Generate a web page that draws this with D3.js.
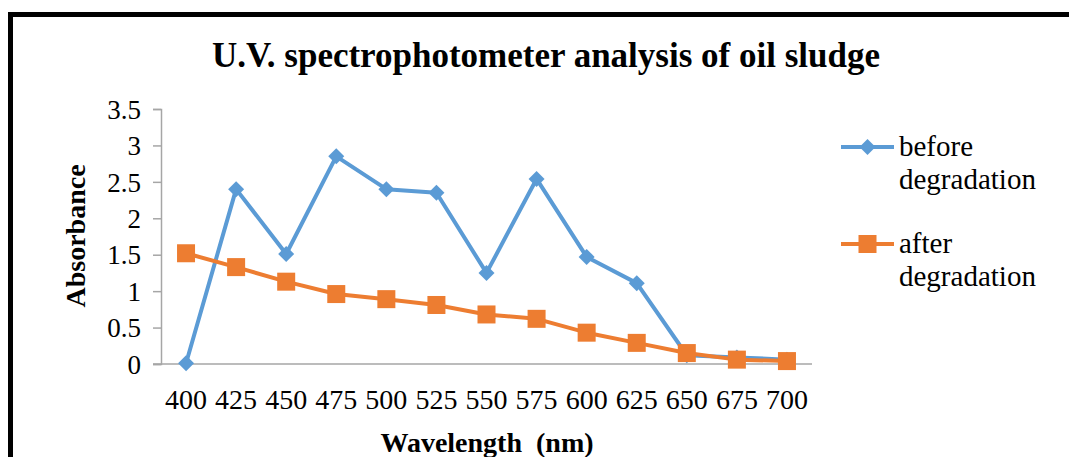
<!DOCTYPE html>
<html>
<head>
<meta charset="utf-8">
<script src="https://cdn.jsdelivr.net/npm/d3@7"></script>
<style>
  body { margin: 0; background: #fff; }
</style>
</head>
<body>
<div id="chart"></div>
<script>
var width = 1069,
    height = 457;

// data
var wavelengths = ["400","425","450","475","500","525","550","575","600","625","650","675","700"];
var before = [0.01, 2.40, 1.51, 2.85, 2.40, 2.35, 1.25, 2.54, 1.47, 1.11, 0.12, 0.09, 0.06];
var after  = [1.52, 1.33, 1.13, 0.96, 0.89, 0.81, 0.68, 0.62, 0.43, 0.29, 0.15, 0.06, 0.04];
var yTicks = [0, 0.5, 1, 1.5, 2, 2.5, 3, 3.5];
var seriesNames = ["before degradation", "after degradation"];

var blue = "#5b9bd5", orange = "#ed7d31";
var serif = "Liberation Serif";

var svg = d3.select("#chart")
  .append("svg")
  .attr("width", width)
  .attr("height", height)
  .attr("font-family", serif);

// frame (bottom and right are cut off in the picture)
svg.append("path")
  .attr("d", "M10.5,457 V14.5 H1069")
  .attr("fill", "none")
  .attr("stroke", "#000")
  .attr("stroke-width", 5);

var x = d3.scaleBand().domain(wavelengths).range([161, 812]);
var y = d3.scaleLinear().domain([0, 3.5]).range([364, 109]);

// y axis
var yAxis = svg.append("g")
  .attr("transform", "translate(161,0)")
  .call(d3.axisLeft(y).tickValues(yTicks).tickSize(8).tickPadding(12)
    .tickFormat(function(d){ return d; }));
yAxis.attr("font-family", serif);
yAxis.select(".domain").attr("stroke", "#a6a6a6").attr("stroke-width", 1.5);
yAxis.selectAll(".tick line").attr("stroke", "#a6a6a6").attr("stroke-width", 1.5);
yAxis.selectAll(".tick text")
  .style("font-size", "27px")
  .attr("fill", "#000")
  .attr("dy", "0.34em");

// x axis
svg.append("line")
  .attr("x1", 153).attr("x2", 812)
  .attr("y1", 364).attr("y2", 364)
  .attr("stroke", "#a6a6a6")
  .attr("stroke-width", 1.5);

svg.selectAll(".xlab")
  .data(wavelengths)
  .enter().append("text")
  .attr("class", "xlab")
  .attr("x", function(d){ return x(d) + x.bandwidth()/2; })
  .attr("y", 409)
  .attr("text-anchor", "middle")
  .style("font-size", "28px")
  .text(function(d){ return d; });

// lines
var line = d3.line()
  .x(function(d, i){ return x(wavelengths[i]) + x.bandwidth()/2; })
  .y(function(d){ return y(d); });

svg.append("path")
  .datum(before)
  .attr("d", line)
  .attr("fill", "none")
  .attr("stroke", blue)
  .attr("stroke-width", 4)
  .attr("stroke-linejoin", "round");

svg.append("path")
  .datum(after)
  .attr("d", line)
  .attr("fill", "none")
  .attr("stroke", orange)
  .attr("stroke-width", 4)
  .attr("stroke-linejoin", "round");

var diamond = d3.symbol().type(d3.symbolSquare).size(128);

svg.selectAll(".before")
  .data(before)
  .enter().append("path")
  .attr("class", "before")
  .attr("d", diamond)
  .attr("transform", function(d, i){
    return "translate(" + (x(wavelengths[i]) + x.bandwidth()/2) + "," + y(d) + ") rotate(45)";
  })
  .attr("fill", blue);

svg.selectAll(".after")
  .data(after)
  .enter().append("rect")
  .attr("class", "after")
  .attr("x", function(d, i){ return x(wavelengths[i]) + x.bandwidth()/2 - 9; })
  .attr("y", function(d){ return y(d) - 9; })
  .attr("width", 18)
  .attr("height", 18)
  .attr("fill", orange);

// title
svg.append("text")
  .attr("x", 546)
  .attr("y", 67)
  .attr("text-anchor", "middle")
  .style("font-size", "35px")
  .style("font-weight", "bold")
  .text("U.V. spectrophotometer analysis of oil sludge");

// axis titles
svg.append("text")
  .attr("transform", "translate(85,236) rotate(-90)")
  .attr("text-anchor", "middle")
  .style("font-size", "28px")
  .style("font-weight", "bold")
  .text("Absorbance");

svg.append("text")
  .attr("x", 487)
  .attr("y", 452)
  .attr("text-anchor", "middle")
  .style("font-size", "28px")
  .style("font-weight", "bold")
  .style("white-space", "pre")
  .text("Wavelength  (nm)");

// legend
var legendColors = [blue, orange];
seriesNames.forEach(function(name, i){
  var row = svg.append("g")
    .attr("transform", "translate(841," + (147 + i * 97) + ")");
  row.append("line")
    .attr("x1", 0).attr("x2", 53)
    .attr("stroke", legendColors[i])
    .attr("stroke-width", 4);
  if (i === 0) {
    row.append("path")
      .attr("d", diamond)
      .attr("transform", "translate(26.5,0) rotate(45)")
      .attr("fill", blue);
  } else {
    row.append("rect")
      .attr("x", 17.5).attr("y", -9)
      .attr("width", 18).attr("height", 18)
      .attr("fill", orange);
  }
  var words = name.split(" ");
  row.append("text")
    .attr("x", 58)
    .attr("y", 9)
    .style("font-size", "29px")
    .text(words[0]);
  row.append("text")
    .attr("x", 58)
    .attr("y", 42)
    .style("font-size", "29px")
    .text(words[1]);
});
</script>
</body>
</html>
